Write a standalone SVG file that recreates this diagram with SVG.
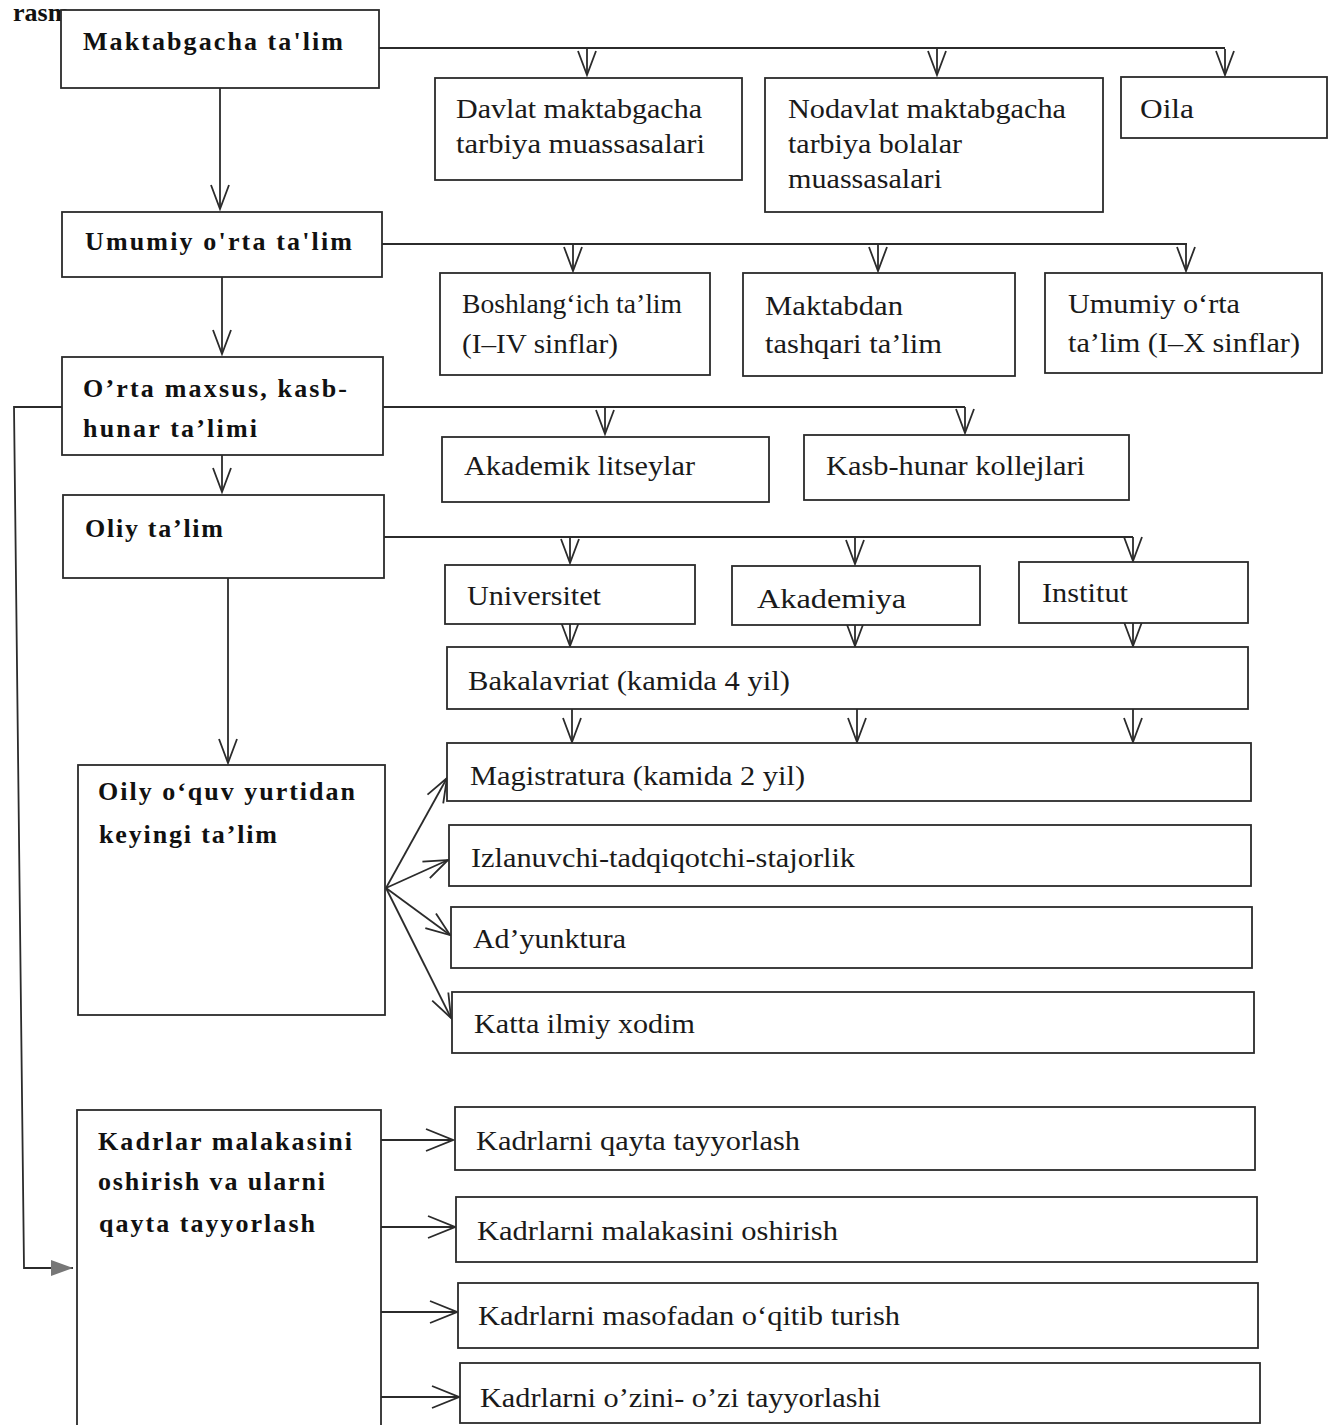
<svg xmlns="http://www.w3.org/2000/svg" width="1332" height="1425" viewBox="0 0 1332 1425">
<defs>
<style>
.box{fill:#fff;stroke:#2b2b2b;stroke-width:1.8}
.c{fill:none;stroke:#2b2b2b;stroke-width:1.8}
.b{font-family:"Liberation Serif","Times New Roman",serif;font-weight:bold;font-size:26px;fill:#111}
.t{font-family:"Liberation Serif","Times New Roman",serif;font-size:28px;fill:#1a1a1a}
</style>
<marker id="v" markerUnits="userSpaceOnUse" viewBox="-2 -12 28 24" markerWidth="28" markerHeight="24" refX="24" refY="0" orient="auto">
<path d="M0,-9 L24,0 L0,9" fill="none" stroke="#2b2b2b" stroke-width="1.8"/>
</marker>
<marker id="vh" markerUnits="userSpaceOnUse" viewBox="-2 -13 31 26" markerWidth="31" markerHeight="26" refX="27" refY="0" orient="auto">
<path d="M0,-11 L27,0 L0,11" fill="none" stroke="#2b2b2b" stroke-width="1.8"/>
</marker>
<marker id="fa" markerUnits="userSpaceOnUse" viewBox="-1 -10 25 20" markerWidth="25" markerHeight="20" refX="22" refY="0" orient="auto">
<path d="M0,-8 L22,0 L0,8 Z" fill="#777" stroke="none"/>
</marker>
</defs>
<rect x="0" y="0" width="1332" height="1425" fill="#fff"/>
<text class="b" x="13" y="21" font-size="23">rasm</text>

<g id="connectors">
<path class="c" d="M379,48 H1225"/>
<path class="c" d="M587,49 V75" marker-end="url(#v)"/>
<path class="c" d="M937,49 V75" marker-end="url(#v)"/>
<path class="c" d="M1225,49 V75" marker-end="url(#v)"/>
<path class="c" d="M220,88 V209" marker-end="url(#v)"/>
<path class="c" d="M382,244 H1187"/>
<path class="c" d="M573,244 V271" marker-end="url(#v)"/>
<path class="c" d="M878,244 V271" marker-end="url(#v)"/>
<path class="c" d="M1186,244 V271" marker-end="url(#v)"/>
<path class="c" d="M222,277 V354" marker-end="url(#v)"/>
<path class="c" d="M383,407 H965"/>
<path class="c" d="M605,407 V434" marker-end="url(#v)"/>
<path class="c" d="M965,407 V433" marker-end="url(#v)"/>
<path class="c" d="M222,455 V492" marker-end="url(#v)"/>
<path class="c" d="M384,537 H1133"/>
<path class="c" d="M570,537 V563" marker-end="url(#v)"/>
<path class="c" d="M855,537 V564" marker-end="url(#v)"/>
<path class="c" d="M1133,537 V561" marker-end="url(#v)"/>
<path class="c" d="M570,624 V646" marker-end="url(#v)"/>
<path class="c" d="M855,625 V646" marker-end="url(#v)"/>
<path class="c" d="M1133,623 V646" marker-end="url(#v)"/>
<path class="c" d="M572,709 V742" marker-end="url(#v)"/>
<path class="c" d="M857,709 V742" marker-end="url(#v)"/>
<path class="c" d="M1133,709 V742" marker-end="url(#v)"/>
<path class="c" d="M228,578 V763" marker-end="url(#v)"/>
<path class="c" d="M386,888 L447,778" marker-end="url(#v)"/>
<path class="c" d="M386,888 L448,860" marker-end="url(#v)"/>
<path class="c" d="M386,888 L450,935" marker-end="url(#v)"/>
<path class="c" d="M386,888 L451,1018" marker-end="url(#v)"/>
<path class="c" d="M381,1140 H453" marker-end="url(#vh)"/>
<path class="c" d="M381,1227 H455" marker-end="url(#vh)"/>
<path class="c" d="M381,1312 H457" marker-end="url(#vh)"/>
<path class="c" d="M381,1397 H459" marker-end="url(#vh)"/>
<path class="c" d="M62,407 H14 L24,1268 H73" marker-end="url(#fa)"/>
</g>

<g id="n-maktabgacha"><rect class="box" x="61" y="10" width="318" height="78"/><text class="b" x="83" y="50" textLength="260" lengthAdjust="spacing">Maktabgacha ta'lim</text></g>
<g id="n-umumiy"><rect class="box" x="62" y="212" width="320" height="65"/><text class="b" x="85" y="250" textLength="267" lengthAdjust="spacing">Umumiy o'rta ta'lim</text></g>
<g id="n-ortamaxsus"><rect class="box" x="62" y="357" width="321" height="98"/><text class="b" x="83" y="397" textLength="264" lengthAdjust="spacing">O’rta maxsus, kasb-</text><text class="b" x="83" y="437" textLength="174" lengthAdjust="spacing">hunar ta’limi</text></g>
<g id="n-oliy"><rect class="box" x="63" y="495" width="321" height="83"/><text class="b" x="85" y="537" textLength="138" lengthAdjust="spacing">Oliy ta’lim</text></g>
<g id="n-oily"><rect class="box" x="78" y="765" width="307" height="250"/><text class="b" x="98" y="800" textLength="257" lengthAdjust="spacing">Oily o‘quv yurtidan</text><text class="b" x="99" y="843" textLength="178" lengthAdjust="spacing">keyingi ta’lim</text></g>
<g id="n-kadrlar"><rect class="box" x="77" y="1110" width="304" height="330"/><text class="b" x="98" y="1150" textLength="254" lengthAdjust="spacing">Kadrlar malakasini</text><text class="b" x="98" y="1190" textLength="227" lengthAdjust="spacing">oshirish va ularni</text><text class="b" x="99" y="1232" textLength="216" lengthAdjust="spacing">qayta tayyorlash</text></g>

<g id="n-davlat"><rect class="box" x="435" y="78" width="307" height="102"/><text class="t" x="456" y="118" textLength="246" lengthAdjust="spacingAndGlyphs">Davlat maktabgacha</text><text class="t" x="456" y="153" textLength="249" lengthAdjust="spacingAndGlyphs">tarbiya muassasalari</text></g>
<g id="n-nodavlat"><rect class="box" x="765" y="78" width="338" height="134"/><text class="t" x="788" y="118" textLength="278" lengthAdjust="spacingAndGlyphs">Nodavlat maktabgacha</text><text class="t" x="788" y="153" textLength="174" lengthAdjust="spacingAndGlyphs">tarbiya bolalar</text><text class="t" x="788" y="188" textLength="154" lengthAdjust="spacingAndGlyphs">muassasalari</text></g>
<g id="n-oila"><rect class="box" x="1121" y="77" width="206" height="61"/><text class="t" x="1140" y="118" textLength="54" lengthAdjust="spacingAndGlyphs">Oila</text></g>

<g id="n-boshlang"><rect class="box" x="440" y="273" width="270" height="102"/><text class="t" x="462" y="313" textLength="220" lengthAdjust="spacingAndGlyphs" font-size="26">Boshlang‘ich ta’lim</text><text class="t" x="462" y="353" textLength="156" lengthAdjust="spacingAndGlyphs" font-size="26">(I–IV sinflar)</text></g>
<g id="n-maktabdan"><rect class="box" x="743" y="273" width="272" height="103"/><text class="t" x="765" y="315" textLength="138" lengthAdjust="spacingAndGlyphs">Maktabdan</text><text class="t" x="765" y="353" textLength="177" lengthAdjust="spacingAndGlyphs">tashqari ta’lim</text></g>
<g id="n-umumiyorta"><rect class="box" x="1045" y="273" width="277" height="100"/><text class="t" x="1068" y="313" textLength="172" lengthAdjust="spacingAndGlyphs">Umumiy o‘rta</text><text class="t" x="1068" y="352" textLength="232" lengthAdjust="spacingAndGlyphs">ta’lim (I–X sinflar)</text></g>

<g id="n-akademik"><rect class="box" x="442" y="437" width="327" height="65"/><text class="t" x="464" y="475" textLength="231" lengthAdjust="spacingAndGlyphs">Akademik litseylar</text></g>
<g id="n-kasb"><rect class="box" x="804" y="435" width="325" height="65"/><text class="t" x="826" y="475" textLength="259" lengthAdjust="spacingAndGlyphs">Kasb-hunar kollejlari</text></g>

<g id="n-universitet"><rect class="box" x="445" y="565" width="250" height="59"/><text class="t" x="467" y="605" textLength="134" lengthAdjust="spacingAndGlyphs">Universitet</text></g>
<g id="n-akademiya"><rect class="box" x="732" y="566" width="248" height="59"/><text class="t" x="757" y="608" textLength="149" lengthAdjust="spacingAndGlyphs">Akademiya</text></g>
<g id="n-institut"><rect class="box" x="1019" y="562" width="229" height="61"/><text class="t" x="1042" y="602" textLength="86" lengthAdjust="spacingAndGlyphs">Institut</text></g>

<g id="n-bakalavriat"><rect class="box" x="447" y="647" width="801" height="62"/><text class="t" x="468" y="690" textLength="322" lengthAdjust="spacingAndGlyphs">Bakalavriat (kamida 4 yil)</text></g>
<g id="n-magistratura"><rect class="box" x="447" y="743" width="804" height="58"/><text class="t" x="470" y="785" textLength="335" lengthAdjust="spacingAndGlyphs">Magistratura (kamida 2 yil)</text></g>
<g id="n-izlanuvchi"><rect class="box" x="449" y="825" width="802" height="61"/><text class="t" x="471" y="867" textLength="384" lengthAdjust="spacingAndGlyphs">Izlanuvchi-tadqiqotchi-stajorlik</text></g>
<g id="n-adyunktura"><rect class="box" x="451" y="907" width="801" height="61"/><text class="t" x="473" y="948" textLength="153" lengthAdjust="spacingAndGlyphs">Ad’yunktura</text></g>
<g id="n-katta"><rect class="box" x="452" y="992" width="802" height="61"/><text class="t" x="474" y="1033" textLength="221" lengthAdjust="spacingAndGlyphs">Katta ilmiy xodim</text></g>

<g id="n-qayta"><rect class="box" x="455" y="1107" width="800" height="63"/><text class="t" x="476" y="1150" textLength="324" lengthAdjust="spacingAndGlyphs">Kadrlarni qayta tayyorlash</text></g>
<g id="n-malakasini"><rect class="box" x="456" y="1197" width="801" height="65"/><text class="t" x="477" y="1240" textLength="361" lengthAdjust="spacingAndGlyphs">Kadrlarni malakasini oshirish</text></g>
<g id="n-masofadan"><rect class="box" x="458" y="1283" width="800" height="65"/><text class="t" x="478" y="1325" textLength="422" lengthAdjust="spacingAndGlyphs">Kadrlarni masofadan o‘qitib turish</text></g>
<g id="n-ozini"><rect class="box" x="460" y="1363" width="800" height="60"/><text class="t" x="480" y="1407" textLength="401" lengthAdjust="spacingAndGlyphs">Kadrlarni o’zini- o’zi tayyorlashi</text></g>
</svg>
